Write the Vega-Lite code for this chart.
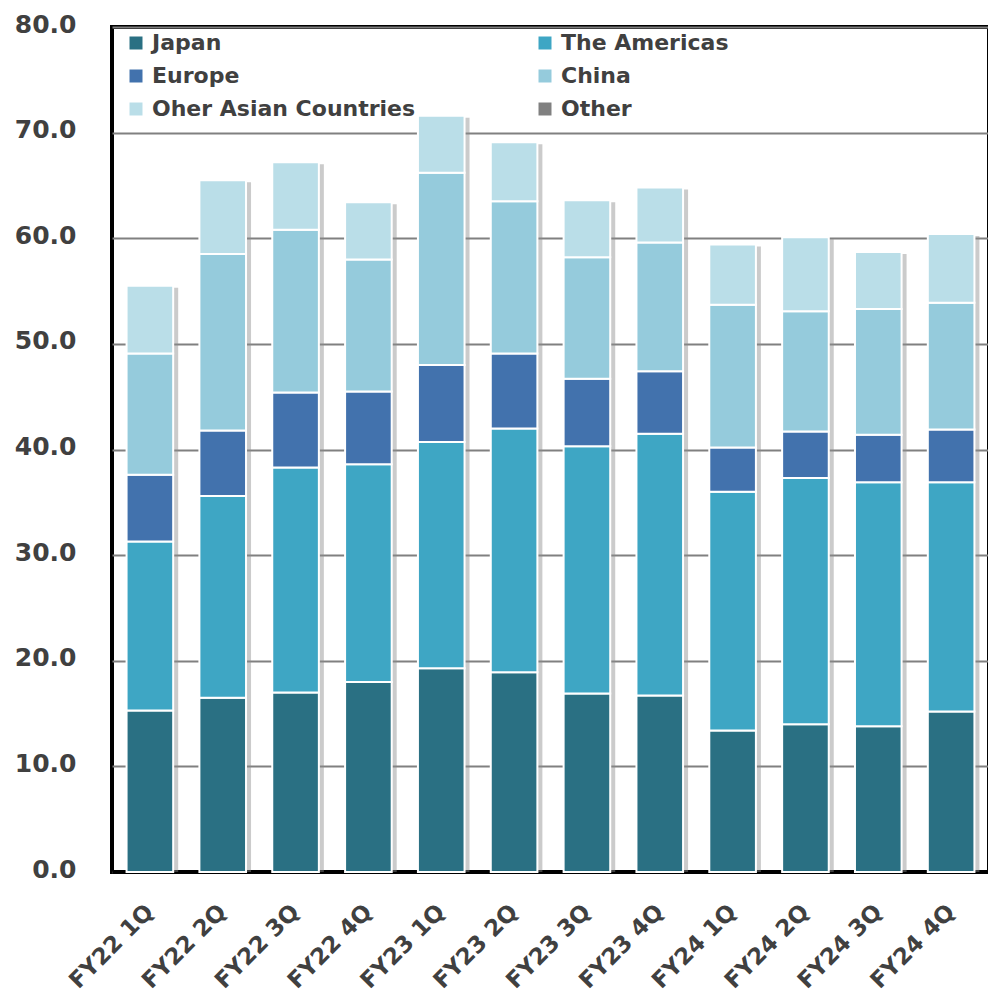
{
  "$schema": "https://vega.github.io/schema/vega-lite/v6.json",
  "width": 877,
  "height": 845,
  "autosize": "none",
  "padding": {"left": 112, "top": 27, "right": 0, "bottom": 126},
  "background": "white",
  "config": {
    "font": "DejaVu Sans",
    "view": {"stroke": "#000000", "strokeWidth": 4}
  },
  "data": {
    "values": [
      {"quarter": "FY22 1Q", "region": "Japan", "value": 15.3},
      {"quarter": "FY22 1Q", "region": "The Americas", "value": 16.0},
      {"quarter": "FY22 1Q", "region": "Europe", "value": 6.3},
      {"quarter": "FY22 1Q", "region": "China", "value": 11.5},
      {"quarter": "FY22 1Q", "region": "Oher Asian Countries", "value": 6.4},
      {"quarter": "FY22 2Q", "region": "Japan", "value": 16.5},
      {"quarter": "FY22 2Q", "region": "The Americas", "value": 19.1},
      {"quarter": "FY22 2Q", "region": "Europe", "value": 6.2},
      {"quarter": "FY22 2Q", "region": "China", "value": 16.7},
      {"quarter": "FY22 2Q", "region": "Oher Asian Countries", "value": 7.0},
      {"quarter": "FY22 3Q", "region": "Japan", "value": 17.0},
      {"quarter": "FY22 3Q", "region": "The Americas", "value": 21.3},
      {"quarter": "FY22 3Q", "region": "Europe", "value": 7.1},
      {"quarter": "FY22 3Q", "region": "China", "value": 15.4},
      {"quarter": "FY22 3Q", "region": "Oher Asian Countries", "value": 6.4},
      {"quarter": "FY22 4Q", "region": "Japan", "value": 18.0},
      {"quarter": "FY22 4Q", "region": "The Americas", "value": 20.6},
      {"quarter": "FY22 4Q", "region": "Europe", "value": 6.9},
      {"quarter": "FY22 4Q", "region": "China", "value": 12.5},
      {"quarter": "FY22 4Q", "region": "Oher Asian Countries", "value": 5.4},
      {"quarter": "FY23 1Q", "region": "Japan", "value": 19.3},
      {"quarter": "FY23 1Q", "region": "The Americas", "value": 21.4},
      {"quarter": "FY23 1Q", "region": "Europe", "value": 7.3},
      {"quarter": "FY23 1Q", "region": "China", "value": 18.2},
      {"quarter": "FY23 1Q", "region": "Oher Asian Countries", "value": 5.4},
      {"quarter": "FY23 2Q", "region": "Japan", "value": 18.9},
      {"quarter": "FY23 2Q", "region": "The Americas", "value": 23.1},
      {"quarter": "FY23 2Q", "region": "Europe", "value": 7.1},
      {"quarter": "FY23 2Q", "region": "China", "value": 14.4},
      {"quarter": "FY23 2Q", "region": "Oher Asian Countries", "value": 5.6},
      {"quarter": "FY23 3Q", "region": "Japan", "value": 16.9},
      {"quarter": "FY23 3Q", "region": "The Americas", "value": 23.4},
      {"quarter": "FY23 3Q", "region": "Europe", "value": 6.4},
      {"quarter": "FY23 3Q", "region": "China", "value": 11.5},
      {"quarter": "FY23 3Q", "region": "Oher Asian Countries", "value": 5.4},
      {"quarter": "FY23 4Q", "region": "Japan", "value": 16.7},
      {"quarter": "FY23 4Q", "region": "The Americas", "value": 24.8},
      {"quarter": "FY23 4Q", "region": "Europe", "value": 5.9},
      {"quarter": "FY23 4Q", "region": "China", "value": 12.2},
      {"quarter": "FY23 4Q", "region": "Oher Asian Countries", "value": 5.2},
      {"quarter": "FY24 1Q", "region": "Japan", "value": 13.4},
      {"quarter": "FY24 1Q", "region": "The Americas", "value": 22.6},
      {"quarter": "FY24 1Q", "region": "Europe", "value": 4.2},
      {"quarter": "FY24 1Q", "region": "China", "value": 13.5},
      {"quarter": "FY24 1Q", "region": "Oher Asian Countries", "value": 5.7},
      {"quarter": "FY24 2Q", "region": "Japan", "value": 14.0},
      {"quarter": "FY24 2Q", "region": "The Americas", "value": 23.3},
      {"quarter": "FY24 2Q", "region": "Europe", "value": 4.4},
      {"quarter": "FY24 2Q", "region": "China", "value": 11.4},
      {"quarter": "FY24 2Q", "region": "Oher Asian Countries", "value": 7.0},
      {"quarter": "FY24 3Q", "region": "Japan", "value": 13.8},
      {"quarter": "FY24 3Q", "region": "The Americas", "value": 23.1},
      {"quarter": "FY24 3Q", "region": "Europe", "value": 4.5},
      {"quarter": "FY24 3Q", "region": "China", "value": 11.9},
      {"quarter": "FY24 3Q", "region": "Oher Asian Countries", "value": 5.4},
      {"quarter": "FY24 4Q", "region": "Japan", "value": 15.2},
      {"quarter": "FY24 4Q", "region": "The Americas", "value": 21.7},
      {"quarter": "FY24 4Q", "region": "Europe", "value": 5.0},
      {"quarter": "FY24 4Q", "region": "China", "value": 12.0},
      {"quarter": "FY24 4Q", "region": "Oher Asian Countries", "value": 6.5}
    ]
  },
  "transform": [
    {"calculate": "indexof(['Japan', 'The Americas', 'Europe', 'China', 'Oher Asian Countries', 'Other'], datum.region)", "as": "stackOrder"}
  ],
  "encoding": {
    "x": {
      "field": "quarter",
      "type": "nominal",
      "sort": null,
      "scale": {"paddingInner": 0.36, "paddingOuter": 0.2},
      "axis": {
        "title": null,
        "labelAngle": -45,
        "labelAlign": "right",
        "labelBaseline": "middle",
        "labelFontSize": 23,
        "labelFontWeight": "bold",
        "labelColor": "#404040",
        "labelPadding": 36,
        "ticks": false,
        "domainColor": "#000000",
        "domainWidth": 3,
        "grid": false
      }
    }
  },
  "layer": [
    {
      "mark": {"type": "bar", "fill": "#8c8c8c", "opacity": 0.45, "xOffset": 5, "yOffset": 2},
      "encoding": {
        "y": {
          "aggregate": "sum",
          "field": "value",
          "type": "quantitative",
          "scale": {"domain": [0, 80], "nice": false}
        }
      }
    },
    {
      "mark": {"type": "bar", "stroke": "#ffffff", "strokeWidth": 2},
      "encoding": {
        "y": {
          "field": "value",
          "type": "quantitative",
          "stack": "zero",
          "scale": {"domain": [0, 80], "nice": false},
          "axis": {
            "title": null,
            "values": [0, 10, 20, 30, 40, 50, 60, 70, 80],
            "format": ".1f",
            "labelFontSize": 25,
            "labelFontWeight": "bold",
            "labelColor": "#404040",
            "labelPadding": 36,
            "labelOffset": -3,
            "ticks": false,
            "domain": false,
            "grid": true,
            "gridColor": "#808080",
            "gridWidth": 2
          }
        },
        "order": {"field": "stackOrder", "type": "quantitative", "sort": "ascending"},
        "color": {
          "field": "region",
          "type": "nominal",
          "scale": {
            "domain": ["Japan", "Europe", "Oher Asian Countries", "The Americas", "China", "Other"],
            "range": ["#2a7083", "#4272ad", "#badee8", "#3ea6c4", "#95cbdc", "#808080"]
          },
          "legend": {
            "title": null,
            "orient": "none",
            "legendX": 13,
            "legendY": 5,
            "columns": 2,
            "columnPadding": 118,
            "rowPadding": 11,
            "symbolType": "square",
            "symbolSize": 169,
            "symbolStrokeWidth": 0,
            "labelFontSize": 22,
            "labelFontWeight": "bold",
            "labelColor": "#404040",
            "labelOffset": 5,
            "labelLimit": 400
          }
        }
      }
    }
  ]
}
